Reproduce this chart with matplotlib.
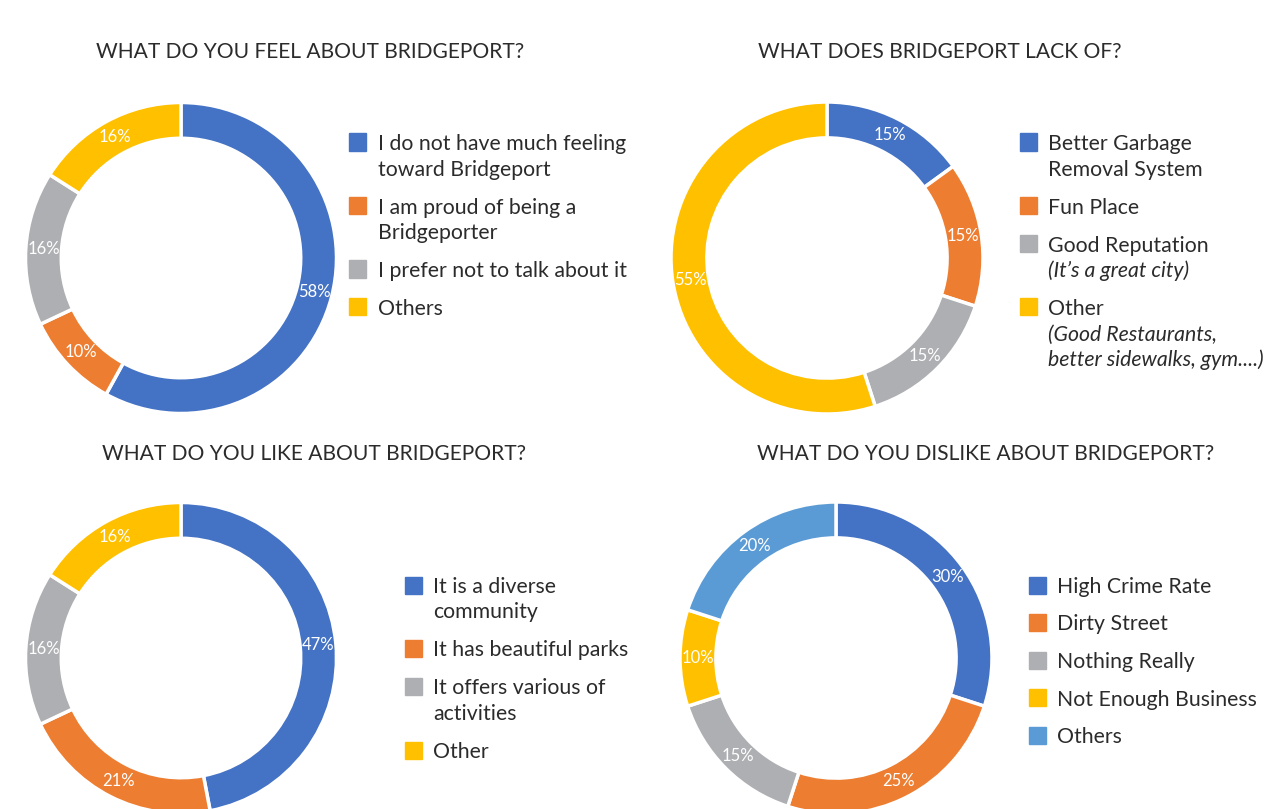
import matplotlib
matplotlib.use('Agg')
import matplotlib.pyplot as plt
from matplotlib.patches import Rectangle

plt.rcParams['font.family'] = ['Lato', 'DejaVu Sans']

W, H = 1264, 809

#----------------
# data

BLUE = '#4472C4'
ORANGE = '#ED7D31'
GRAY = '#AEAFB3'
YELLOW = '#FFC000'
LBLUE = '#5B9BD5'

feel_title = 'WHAT DO YOU FEEL ABOUT BRIDGEPORT?'
feel_values = [58, 10, 16, 16]
feel_labels = [['I do not have much feeling', 'toward Bridgeport'],
               ['I am proud of being a', 'Bridgeporter'],
               ['I prefer not to talk about it'],
               ['Others']]
feel_italic = [[], [], [], []]
feel_colors = [BLUE, ORANGE, GRAY, YELLOW]

lack_title = 'WHAT DOES BRIDGEPORT LACK OF?'
lack_values = [15, 15, 15, 55]
lack_labels = [['Better Garbage', 'Removal System'],
               ['Fun Place'],
               ['Good Reputation'],
               ['Other']]
lack_italic = [[], [], ['(It\u2019s a great city)'],
               ['(Good Restaurants,', 'better sidewalks, gym....)']]
lack_colors = [BLUE, ORANGE, GRAY, YELLOW]

like_title = 'WHAT DO YOU LIKE ABOUT BRIDGEPORT?'
like_values = [47, 21, 16, 16]
like_labels = [['It is a diverse', 'community'],
               ['It has beautiful parks'],
               ['It offers various of', 'activities'],
               ['Other']]
like_italic = [[], [], [], []]
like_colors = [BLUE, ORANGE, GRAY, YELLOW]

dislike_title = 'WHAT DO YOU DISLIKE ABOUT BRIDGEPORT?'
dislike_values = [30, 25, 15, 10, 20]
dislike_labels = [['High Crime Rate'], ['Dirty Street'], ['Nothing Really'],
                  ['Not Enough Business'], ['Others']]
dislike_italic = [[], [], [], [], []]
dislike_colors = [BLUE, ORANGE, GRAY, YELLOW, LBLUE]

TXT = '#2b2b2b'

#----------------
# pixel helpers (y measured from top)

def fx(x):
    return x / W

def fy(y):
    return 1 - y / H

#----------------

def donut(fig, cx, cy, r, values, colors):
    ax = fig.add_axes([fx(cx - r), fy(cy + r), 2 * r / W, 2 * r / H])
    ax.pie(values, colors=colors, startangle=90, counterclock=False,
           radius=1, autopct='%.0f%%', pctdistance=0.885,
           wedgeprops=dict(width=0.23, edgecolor='white', linewidth=2.5),
           textprops=dict(color='white', fontsize=12))
    ax.set_xlim(-1, 1)
    ax.set_ylim(-1, 1)
    ax.set_aspect('equal')
    ax.axis('off')
    return ax

#----------------

def legend(fig, xsq, xtxt, ytop, labels, italics, colors, gap=12.5, step=25.5, sq=17):
    y = ytop
    for lab, ita, col in zip(labels, italics, colors):
        fig.patches.append(Rectangle((fx(xsq), fy(y + sq / 2)), sq / W, sq / H,
                                     transform=fig.transFigure, color=col, figure=fig))
        for line in lab:
            fig.text(fx(xtxt), fy(y + 2), line, fontsize=15.3, color=TXT, va='center', ha='left')
            y += step
        for line in ita:
            fig.text(fx(xtxt), fy(y + 2), line, fontsize=15.3, color=TXT, va='center', ha='left',
                     style='italic')
            y += step
        y += gap

#----------------

fig = plt.figure(figsize=(W / 100, H / 100), dpi=100)
fig.patch.set_facecolor('white')

donut(fig, 181, 258, 155.5, feel_values, feel_colors)
donut(fig, 827, 258, 156, lack_values, lack_colors)
donut(fig, 181, 658, 155.5, like_values, like_colors)
donut(fig, 836, 658, 156, dislike_values, dislike_colors)

fig.text(fx(310), fy(52), feel_title, fontsize=15.1, color=TXT, ha='center', va='center')
fig.text(fx(940), fy(52), lack_title, fontsize=15.1, color=TXT, ha='center', va='center')
fig.text(fx(314), fy(454), like_title, fontsize=15.1, color=TXT, ha='center', va='center')
fig.text(fx(986), fy(454), dislike_title, fontsize=15.1, color=TXT, ha='center', va='center')

legend(fig, 349, 378, 142, feel_labels, feel_italic, feel_colors)
legend(fig, 1020, 1048, 142, lack_labels, lack_italic, lack_colors)
legend(fig, 405, 433, 585, like_labels, like_italic, like_colors)
legend(fig, 1029, 1057, 585, dislike_labels, dislike_italic, dislike_colors, gap=12)

fig.savefig('out.png', dpi=100, facecolor='white')
